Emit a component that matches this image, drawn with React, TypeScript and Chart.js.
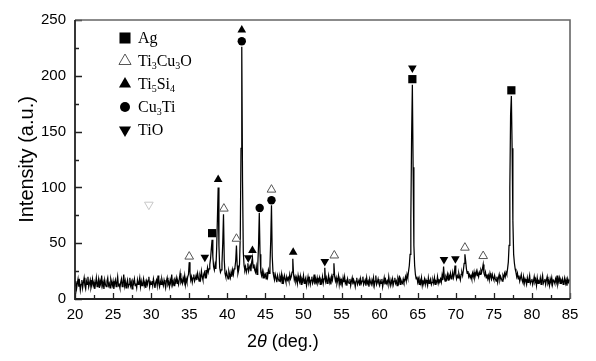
import React, { useEffect, useRef } from 'react';
import { Chart, registerables } from 'chart.js';

Chart.register(...registerables);

// ---- data ----
const TWO_THETA_START = 20;
const TWO_THETA_STEP = 0.1;

// Intensity (a.u.), one row per degree (20.0 ... 84.9), plus 85.0
const INTENSITY: number[] = [
  12, 16, 9, 14, 18, 11, 15, 8, 13, 17,
  10, 15, 19, 12, 9, 16, 13, 20, 11, 14,
  17, 10, 13, 18, 12, 15, 9, 14, 19, 11,
  14, 18, 10, 16, 13, 21, 12, 15, 9, 17,
  13, 11, 16, 19, 12, 14, 10, 18, 15, 12,
  16, 9, 14, 17, 11, 15, 20, 12, 13, 10,
  15, 18, 11, 14, 22, 12, 16, 10, 14, 17,
  11, 13, 19, 12, 15, 9, 16, 14, 18, 12,
  14, 10, 17, 13, 15, 19, 11, 16, 12, 14,
  18, 12, 15, 10, 16, 13, 17, 20, 11, 15,
  13, 16, 12, 18, 14, 10, 15, 17, 12, 21,
  14, 11, 16, 13, 18, 15, 12, 17, 14, 10,
  16, 19, 13, 15, 11, 17, 14, 22, 13, 16,
  12, 17, 15, 19, 14, 16, 13, 18, 23, 15,
  17, 14, 19, 16, 21, 13, 18, 15, 20, 22,
  33, 24, 17, 20, 15, 19, 22, 16, 18, 21,
  17, 23, 19, 16, 21, 18, 25, 20, 17, 22,
  24, 19, 26, 22, 28, 24, 27, 31, 36, 45,
  53, 38, 29, 26, 31, 27, 45, 72, 100, 48,
  28, 24, 26, 32, 50, 76, 35, 23, 20, 24,
  21, 18, 25, 22, 19, 24, 20, 26, 22, 27,
  28, 34, 48, 30, 23, 26, 31, 55, 135, 226,
  105, 42, 30, 26, 29, 24, 27, 32, 25, 28,
  30, 25, 33, 37, 28, 31, 26, 24, 29, 22,
  30, 48, 77, 40, 24, 21, 25, 19, 23, 20,
  22, 18, 24, 20, 26, 23, 30, 52, 84, 38,
  24, 20, 17, 22, 19, 15, 21, 18, 16, 20,
  17, 22, 14, 19, 16, 21, 18, 15, 20, 17,
  19, 16, 22, 18, 20, 24, 36, 22, 17, 20,
  16, 19, 14, 21, 17, 15, 20, 13, 18, 16,
  21, 14, 17, 19, 12, 16, 20, 15, 18, 13,
  17, 20, 14, 16, 22, 13, 18, 15, 19, 14,
  16, 19, 13, 17, 15, 20, 14, 18, 28, 16,
  19, 14, 17, 21, 15, 18, 13, 20, 17, 22,
  32, 20, 16, 19, 14, 17, 21, 13, 18, 15,
  17, 13, 19, 15, 20, 14, 16, 12, 18, 15,
  14, 18, 12, 16, 19, 13, 17, 15, 11, 16,
  19, 13, 15, 17, 12, 18, 14, 16, 20, 13,
  15, 17, 12, 19, 14, 16, 11, 18, 15, 13,
  17, 14, 19, 12, 16, 21, 13, 15, 18, 14,
  12, 16, 14, 18, 11, 15, 19, 13, 17, 14,
  16, 13, 20, 15, 12, 17, 14, 18, 13, 16,
  19, 14, 16, 12, 18, 15, 21, 13, 17, 15,
  14, 18, 15, 17, 20, 16, 22, 19, 25, 30,
  40, 72, 145, 192, 118, 48, 30, 22, 18, 20,
  15, 18, 13, 17, 14, 19, 12, 16, 15, 18,
  13, 17, 15, 12, 19, 14, 16, 18, 13, 15,
  17, 14, 19, 13, 16, 15, 20, 14, 17, 16,
  18, 15, 21, 17, 29, 19, 16, 20, 18, 22,
  17, 21, 19, 23, 18, 20, 24, 19, 22, 30,
  22, 18, 21, 19, 23, 20, 17, 22, 24, 21,
  26, 32, 40, 34, 27, 23, 25, 20, 22, 19,
  21, 18, 23, 20, 24, 19, 22, 25, 21, 23,
  20, 24, 22, 26, 24, 27, 31, 23, 21, 24,
  19, 22, 18, 21, 17, 23, 20, 18, 22, 19,
  17, 21, 18, 16, 20, 15, 19, 22, 17, 20,
  18, 16, 21, 19, 23, 20, 24, 22, 27, 33,
  48, 100, 165, 182, 135, 70, 40, 32, 27, 24,
  20, 23, 18, 21, 16, 19, 22, 17, 15, 20,
  14, 18, 16, 13, 19, 15, 17, 21, 14, 16,
  18, 13, 16, 20, 15, 17, 12, 19, 14, 16,
  15, 19, 13, 17, 21, 14, 16, 18, 13, 17,
  20, 14, 16, 12, 18, 15, 19, 13, 17, 16,
  14, 18, 15, 21, 13, 16, 19, 14, 17, 15,
  18, 13, 16, 19, 14, 17, 12, 18, 15, 17,
  16,
];

// phase markers (2θ, marker height)
const AG_PEAKS = [
  { x: 38.0, y: 59 },
  { x: 64.3, y: 197 },
  { x: 77.3, y: 187 },
];
const TI3CU3O_PEAKS = [
  { x: 35.0, y: 38 },
  { x: 39.55, y: 81 },
  { x: 41.2, y: 54 },
  { x: 45.8, y: 98 },
  { x: 54.05, y: 39 },
  { x: 71.2, y: 46 },
  { x: 73.6, y: 38.5 },
];
const TI5SI4_PEAKS = [
  { x: 38.8, y: 107 },
  { x: 41.9, y: 241 },
  { x: 43.3, y: 43.5 },
  { x: 48.65, y: 42 },
];
const CU3TI_PEAKS = [
  { x: 41.9, y: 231 },
  { x: 44.25, y: 81.5 },
  { x: 45.8, y: 88.5 },
];
const TIO_PEAKS = [
  { x: 37.05, y: 37.5 },
  { x: 42.75, y: 37 },
  { x: 52.8, y: 33.5 },
  { x: 64.3, y: 207 },
  { x: 68.45, y: 35.5 },
  { x: 69.95, y: 36 },
];
const FAINT_MARK = [{ x: 29.7, y: 84.5 }];

const LEGEND_LABELS = ['Ag', 'Ti3Cu3O', 'Ti5Si4', 'Cu3Ti', 'TiO'];

const X_MIN = 20;
const X_MAX = 85;
const X_STEP = 5;
const Y_MIN = 0;
const Y_MAX = 250;
const Y_STEP = 50;

const SANS = '"Liberation Sans", Arial, sans-serif';
const SERIF = '"Liberation Serif", "Times New Roman", serif';

function drawMarker(
  ctx: CanvasRenderingContext2D,
  style: string,
  x: number,
  y: number,
  r: number,
  rotation: number,
  fill: string,
  stroke: string,
  lw: number
) {
  ctx.beginPath();
  if (style === 'rect') {
    const s = r * Math.SQRT1_2;
    ctx.rect(x - s, y - s, 2 * s, 2 * s);
  } else if (style === 'triangle') {
    const rot = (rotation * Math.PI) / 180;
    for (let k = 0; k < 3; k++) {
      const a = rot + (k * 2 * Math.PI) / 3;
      const px = x + Math.sin(a) * r;
      const py = y - Math.cos(a) * r;
      if (k === 0) ctx.moveTo(px, py);
      else ctx.lineTo(px, py);
    }
    ctx.closePath();
  } else {
    ctx.arc(x, y, r, 0, Math.PI * 2);
  }
  ctx.fillStyle = fill;
  ctx.fill();
  if (lw > 0) {
    ctx.strokeStyle = stroke;
    ctx.lineWidth = lw;
    ctx.stroke();
  }
}

function drawChemLabel(ctx: CanvasRenderingContext2D, label: string, x: number, y: number) {
  // digits are drawn as subscripts
  let cx = x;
  const parts = label.match(/\d+|\D+/g) || [];
  for (const p of parts) {
    const sub = /^\d+$/.test(p);
    ctx.font = sub ? `10px ${SERIF}` : `16px ${SERIF}`;
    ctx.fillText(p, cx, sub ? y + 4 : y);
    cx += ctx.measureText(p).width;
  }
}

const decorPlugin = {
  id: 'decor',
  afterDatasetsDraw(chart: any) {
    const { ctx, chartArea: a, scales } = chart;
    const xs = scales.x;
    const ys = scales.y;
    ctx.save();
    // inner ticks
    ctx.strokeStyle = '#222';
    ctx.lineWidth = 1.3;
    ctx.beginPath();
    for (let v = X_MIN; v <= X_MAX + 1e-9; v += X_STEP / 2) {
      const major = Math.abs(((v - X_MIN) / X_STEP) - Math.round((v - X_MIN) / X_STEP)) < 1e-6;
      const px = Math.round(xs.getPixelForValue(v)) + 0.5;
      ctx.moveTo(px, a.bottom);
      ctx.lineTo(px, a.bottom - (major ? 6 : 4));
    }
    for (let v = Y_MIN; v <= Y_MAX + 1e-9; v += Y_STEP / 2) {
      const major = Math.abs(((v - Y_MIN) / Y_STEP) - Math.round((v - Y_MIN) / Y_STEP)) < 1e-6;
      const py = Math.round(ys.getPixelForValue(v)) + 0.5;
      ctx.moveTo(a.left, py);
      ctx.lineTo(a.left + (major ? 7 : 4), py);
    }
    ctx.stroke();
    // frame
    ctx.lineWidth = 1.6;
    ctx.strokeStyle = '#666';
    ctx.beginPath();
    ctx.moveTo(a.left, a.top);
    ctx.lineTo(a.right, a.top);
    ctx.lineTo(a.right, a.bottom);
    ctx.stroke();
    ctx.strokeStyle = '#222';
    ctx.lineWidth = 1.8;
    ctx.beginPath();
    ctx.moveTo(a.left, a.top);
    ctx.lineTo(a.left, a.bottom);
    ctx.lineTo(a.right, a.bottom);
    ctx.stroke();

    // legend
    const markerSets = chart.data.datasets.slice(0, LEGEND_LABELS.length);
    const lx = a.left + 50;
    const ly0 = a.top + 18;
    const rowH = 23;
    markerSets.forEach((ds: any, i: number) => {
      const y = ly0 + i * rowH;
      const style = ds.pointStyle;
      const r = style === 'rect' ? 7.8 : style === 'triangle' ? 7 : 5;
      drawMarker(ctx, style, lx, y, r, ds.pointRotation || 0, ds.backgroundColor, ds.borderColor, ds.borderWidth);
      ctx.fillStyle = '#000';
      ctx.textBaseline = 'middle';
      ctx.textAlign = 'left';
      drawChemLabel(ctx, LEGEND_LABELS[i], lx + 13, y + 1);
    });

    // axis titles
    ctx.fillStyle = '#000';
    ctx.textBaseline = 'middle';
    ctx.textAlign = 'center';
    ctx.font = `20px ${SANS}`;
    ctx.save();
    ctx.translate(27, (a.top + a.bottom) / 2);
    ctx.rotate(-Math.PI / 2);
    ctx.fillText('Intensity (a.u.)', 0, 0);
    ctx.restore();

    const segs = [
      { t: '2', f: `18px ${SANS}` },
      { t: 'θ', f: `italic 18px ${SANS}` },
      { t: ' (deg.)', f: `18px ${SANS}` },
    ];
    let total = 0;
    segs.forEach((s) => {
      ctx.font = s.f;
      total += ctx.measureText(s.t).width;
    });
    let tx = a.left + (a.right - a.left) * 0.42 - total / 2;
    ctx.textAlign = 'left';
    segs.forEach((s) => {
      ctx.font = s.f;
      ctx.fillText(s.t, tx, 342);
      tx += ctx.measureText(s.t).width;
    });
    ctx.restore();
  },
};

export default function App() {
  const canvasRef = useRef<HTMLCanvasElement | null>(null);

  useEffect(() => {
    const canvas = canvasRef.current;
    if (!canvas) return;
    const lineData = INTENSITY.map((y, i) => ({
      x: +(TWO_THETA_START + i * TWO_THETA_STEP).toFixed(2),
      y,
    }));
    const markerBase = { type: 'scatter' as const, showLine: false, pointHoverRadius: 0 };
    const chart = new Chart(canvas, {
      type: 'scatter',
      data: {
        datasets: [
          {
            ...markerBase,
            label: 'Ag',
            data: AG_PEAKS,
            pointStyle: 'rect',
            pointRadius: 5.8,
            backgroundColor: '#000',
            borderColor: '#000',
            borderWidth: 0,
          },
          {
            ...markerBase,
            label: 'Ti3Cu3O',
            data: TI3CU3O_PEAKS,
            pointStyle: 'triangle',
            pointRadius: 5,
            backgroundColor: '#fff',
            borderColor: '#555',
            borderWidth: 1,
          },
          {
            ...markerBase,
            label: 'Ti5Si4',
            data: TI5SI4_PEAKS,
            pointStyle: 'triangle',
            pointRadius: 5,
            backgroundColor: '#000',
            borderColor: '#000',
            borderWidth: 0,
          },
          {
            ...markerBase,
            label: 'Cu3Ti',
            data: CU3TI_PEAKS,
            pointStyle: 'circle',
            pointRadius: 4.2,
            backgroundColor: '#000',
            borderColor: '#000',
            borderWidth: 0,
          },
          {
            ...markerBase,
            label: 'TiO',
            data: TIO_PEAKS,
            pointStyle: 'triangle',
            pointRotation: 180,
            pointRadius: 5,
            backgroundColor: '#000',
            borderColor: '#000',
            borderWidth: 0,
          },
          {
            ...markerBase,
            label: 'faint',
            data: FAINT_MARK,
            pointStyle: 'triangle',
            pointRotation: 180,
            pointRadius: 5,
            backgroundColor: '#fff',
            borderColor: '#c8c8c8',
            borderWidth: 1,
          },
          {
            type: 'scatter',
            label: 'XRD',
            data: lineData,
            showLine: true,
            borderColor: '#000',
            borderWidth: 1.25,
            pointRadius: 0,
            pointHoverRadius: 0,
            tension: 0,
          },
        ] as any,
      },
      options: {
        animation: false,
        responsive: false,
        devicePixelRatio: 1,
        events: [],
        layout: { padding: { top: 20, right: 26, left: 0, bottom: 0 } },
        plugins: {
          legend: { display: false },
          tooltip: { enabled: false },
        },
        scales: {
          x: {
            type: 'linear',
            min: X_MIN,
            max: X_MAX,
            grid: { display: false, drawTicks: false },
            border: { display: false },
            ticks: {
              stepSize: X_STEP,
              color: '#000',
              padding: 7,
              maxRotation: 0,
              font: { family: SANS, size: 15 },
            },
            afterFit: (scale: any) => {
              scale.height = 62;
            },
          },
          y: {
            type: 'linear',
            min: Y_MIN,
            max: Y_MAX,
            grid: { display: false, drawTicks: false },
            border: { display: false },
            ticks: {
              stepSize: Y_STEP,
              color: '#000',
              padding: 9,
              font: { family: SANS, size: 15 },
            },
            afterFit: (scale: any) => {
              scale.width = 75;
            },
          },
        },
      },
      plugins: [decorPlugin],
    });
    return () => chart.destroy();
  }, []);

  return (
    <div style={{ position: 'absolute', left: 0, top: 0, width: 596, height: 361, background: '#fff' }}>
      <canvas ref={canvasRef} width={596} height={361} style={{ display: 'block' }} />
    </div>
  );
}
